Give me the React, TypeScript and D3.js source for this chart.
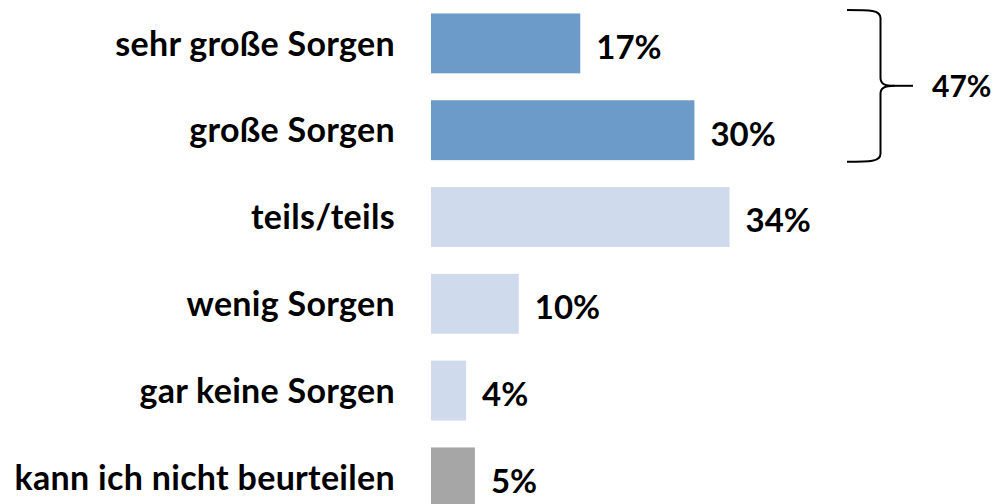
import React from "react";
import * as d3 from "d3";

const categories = [
  "sehr große Sorgen",
  "große Sorgen",
  "teils/teils",
  "wenig Sorgen",
  "gar keine Sorgen",
  "kann ich nicht beurteilen",
];
const values = [17, 30, 34, 10, 4, 5];
const colors = ["#6c9bca", "#6c9bca", "#cfdbec", "#cfdbec", "#cfdbec", "#a6a6a6"];
const bracketLabel = "47%";

const W = 995;
const H = 504;
const FONT = "Lato, 'Open Sans', sans-serif";

export default function App() {
  const x = d3.scaleLinear().domain([0, 100]).range([431, 431 + 878]);
  const y = d3
    .scaleBand<string>()
    .domain(categories)
    .range([0, 6 * 86.8])
    .paddingInner(0.31)
    .paddingOuter(0.155);
  const bw = y.bandwidth();

  const top = (y(categories[0]) as number) - 3.5;
  const bot = (y(categories[1]) as number) + bw + 1.5;
  const mid = (top + bot) / 2;
  const bx = 847;
  const r = 8;
  const ix = 880.5;
  const bracePath = d3.path();
  bracePath.moveTo(bx, top);
  bracePath.bezierCurveTo(870, top, ix, top, ix, top + r);
  bracePath.lineTo(ix, mid - r);
  bracePath.bezierCurveTo(ix, mid - 2, ix + 4, mid, ix + 14, mid);
  bracePath.moveTo(ix + 14, mid);
  bracePath.bezierCurveTo(ix + 4, mid, ix, mid + 2, ix, mid + r);
  bracePath.lineTo(ix, bot - r);
  bracePath.bezierCurveTo(ix, bot, 870, bot, bx, bot);

  return (
    <svg
      width={W}
      height={H}
      style={{ position: "absolute", left: 0, top: 0, background: "#fff" }}
      fontFamily={FONT}
    >
      {categories.map((c, i) => {
        const yy = y(c) as number;
        return (
          <g key={c}>
            <rect x={x(0)} y={yy} width={x(values[i]) - x(0)} height={bw} fill={colors[i]} />
            <text
              x={395}
              y={yy + bw / 2}
              dy="0.36em"
              textAnchor="end"
              fontWeight={700}
              fontSize={34}
              letterSpacing={0.3}
              fill="#000"
            >
              {c}
            </text>
            <text
              x={x(values[i]) + 16}
              y={yy + bw / 2 + 3.5}
              dy="0.36em"
              fontWeight={700}
              fontSize={33}
              fill="#000"
            >
              {values[i]}%
            </text>
          </g>
        );
      })}
      <path d={bracePath.toString()} fill="none" stroke="#000" strokeWidth={2} />
      <line x1={ix + 12} x2={913} y1={mid} y2={mid} stroke="#000" strokeWidth={2} />
      <text x={932} y={mid} dy="0.36em" fontWeight={700} fontSize={30} fill="#000">
        {bracketLabel}
      </text>
    </svg>
  );
}
